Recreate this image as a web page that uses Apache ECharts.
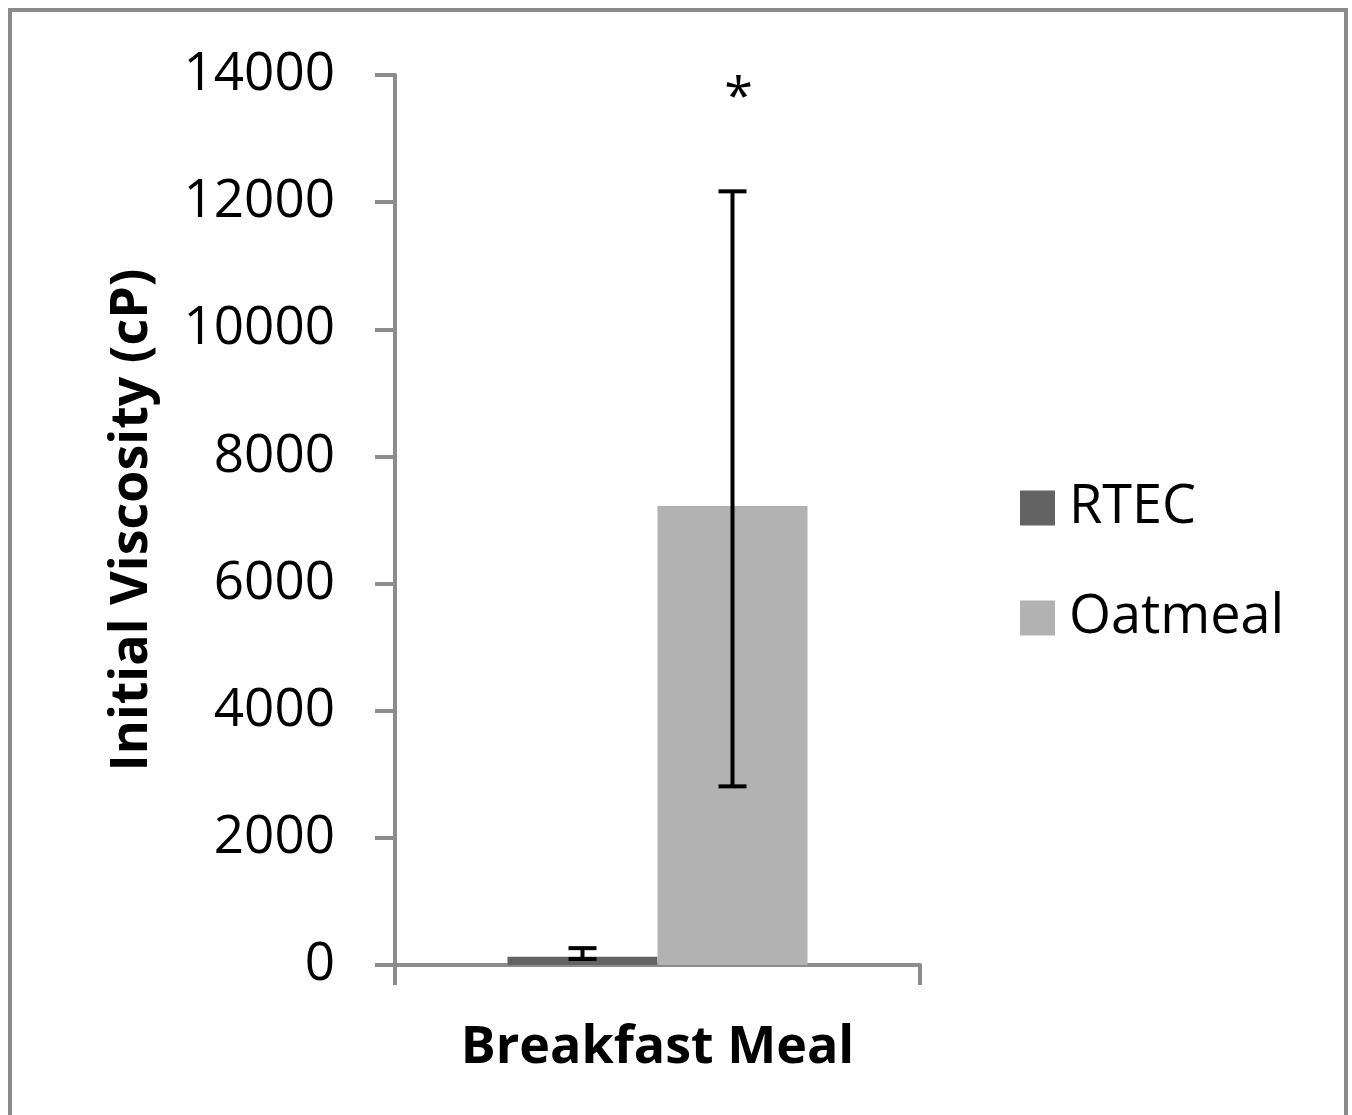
<!DOCTYPE html>
<html><head><meta charset="utf-8">
<script src="https://cdn.jsdelivr.net/npm/echarts@6/dist/echarts.min.js"></script>
<style>html,body{margin:0;padding:0;background:#fff}#c{width:1352px;height:1115px}</style>
</head><body><div id="c"></div>
<script>
const categories = ['Breakfast Meal'];
const seriesNames = ['RTEC', 'Oatmeal'];
const rtecValues = [130];
const oatmealValues = [7220];
const rtecErrLow = [95];
const rtecErrHigh = [265];
const oatmealErrLow = [2810];
const oatmealErrHigh = [12170];
const sigMarks = ['', '*'];
const yTicks = [0, 2000, 4000, 6000, 8000, 10000, 12000, 14000];

const FONT = '"Open Sans", "Liberation Sans", sans-serif';
const AXIS_COLOR = '#8c8c8c';
const BAR_W = 150;

const errData = [
  [0, rtecErrLow[0], rtecErrHigh[0], 0, sigMarks[0]],
  [0, oatmealErrLow[0], oatmealErrHigh[0], 1, sigMarks[1]]
];

const chart = echarts.init(document.getElementById('c'), null, {renderer: 'canvas'});
chart.setOption({
  animation: false,
  backgroundColor: '#fff',
  graphic: [{
    type: 'rect', shape: {x: 10, y: 10, width: 1336, height: 1200},
    style: {fill: 'none', stroke: '#8a8a8a', lineWidth: 4}, z: -1
  }],
  grid: {left: 395, right: 432, top: 75, bottom: 150},
  legend: {
    orient: 'vertical', left: 1015, top: 476,
    itemWidth: 35, itemHeight: 35, itemGap: 56, icon: 'rect',
    data: seriesNames,
    textStyle: {fontFamily: FONT, fontSize: 54, color: '#000', padding: [0, 0, 0, 9]}
  },
  xAxis: {
    type: 'category', data: [''],
    name: categories[0], nameLocation: 'middle', nameGap: 57,
    nameTextStyle: {fontFamily: FONT, fontSize: 52, fontWeight: 'bold', color: '#000'},
    axisLine: {lineStyle: {color: AXIS_COLOR, width: 4}},
    axisTick: {show: true, length: 20, lineStyle: {color: AXIS_COLOR, width: 4}},
    axisLabel: {show: false}
  },
  yAxis: {
    type: 'value', min: 0, max: yTicks[yTicks.length - 1], interval: 2000,
    name: 'Initial Viscosity (cP)', nameLocation: 'middle', nameGap: 237,
    nameTextStyle: {fontFamily: FONT, fontSize: 52, fontWeight: 'bold', color: '#000'},
    axisLine: {show: true, lineStyle: {color: AXIS_COLOR, width: 4}},
    axisTick: {show: true, length: 20, lineStyle: {color: AXIS_COLOR, width: 4}},
    axisLabel: {fontFamily: FONT, fontSize: 53, color: '#000', margin: 60,
      formatter: function (v) { return String(v); }},
    splitLine: {show: false}
  },
  series: [
    {name: seriesNames[0], type: 'bar', data: rtecValues, barWidth: BAR_W, barGap: '0%',
     itemStyle: {color: '#636363'}},
    {name: seriesNames[1], type: 'bar', data: oatmealValues, barWidth: BAR_W, barGap: '0%',
     itemStyle: {color: '#b2b2b2'}},
    {type: 'custom', data: errData, z: 10,
     encode: {x: 0, y: [1, 2]},
     renderItem: function (params, api) {
       const idx = api.value(3);
       const off = (idx - 0.5) * BAR_W;
       const lo = api.coord([api.value(0), api.value(1)]);
       const hi = api.coord([api.value(0), api.value(2)]);
       const x = lo[0] + off;
       const cap = 14;
       const st = {stroke: '#000', lineWidth: 4};
       const children = [
         {type: 'line', shape: {x1: x, y1: lo[1], x2: x, y2: hi[1]}, style: st},
         {type: 'line', shape: {x1: x - cap, y1: lo[1], x2: x + cap, y2: lo[1]}, style: st},
         {type: 'line', shape: {x1: x - cap, y1: hi[1], x2: x + cap, y2: hi[1]}, style: st}
       ];
       const mark = errData[params.dataIndex][4];
       if (mark) {
         const top = api.coord([api.value(0), yTicks[yTicks.length - 1]]);
         children.push({type: 'text', style: {text: mark, x: x + 6, y: top[1] - 2,
           fontFamily: FONT, fontSize: 52, fill: '#000', align: 'center', verticalAlign: 'top'}});
       }
       return {type: 'group', children: children};
     }}
  ]
});
</script></body></html>
